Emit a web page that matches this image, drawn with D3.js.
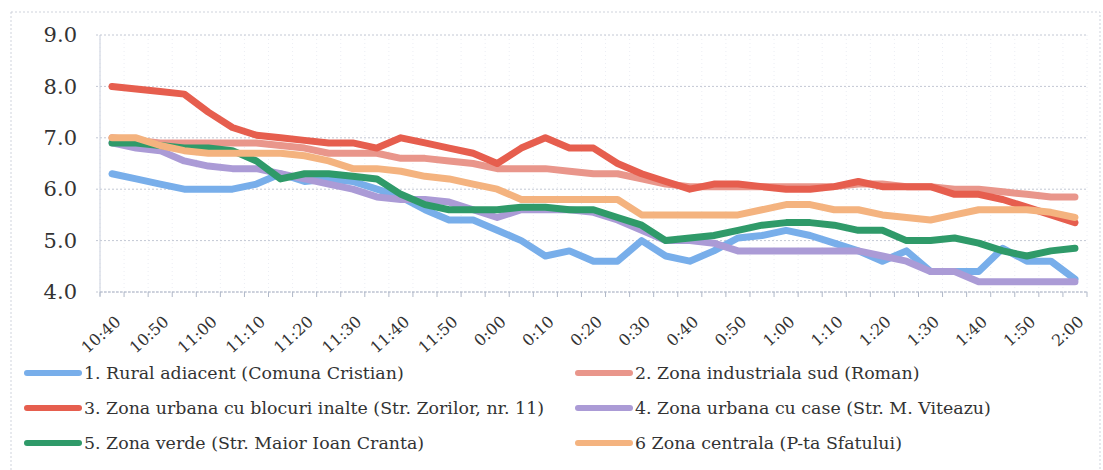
<!DOCTYPE html>
<html>
<head>
<meta charset="utf-8">
<script src="https://cdn.jsdelivr.net/npm/d3@7"></script>
<style>
    body { margin: 0; background: #fff; }
    svg { display: block; }
</style>
</head>
<body>
<svg id="chart" width="1103" height="470"></svg>
<script>
var times = ["10:40","10:45","10:50","10:55","11:00","11:05","11:10","11:15","11:20","11:25",
    "11:30","11:35","11:40","11:45","11:50","11:55","0:00","0:05","0:10","0:15",
    "0:20","0:25","0:30","0:35","0:40","0:45","0:50","0:55","1:00","1:05",
    "1:10","1:15","1:20","1:25","1:30","1:35","1:40","1:45","1:50","1:55","2:00"];

var yTicks = [4, 5, 6, 7, 8, 9];

var seriesNames = [
    "1. Rural adiacent (Comuna Cristian)",
    "2. Zona industriala sud (Roman)",
    "3. Zona urbana cu blocuri inalte (Str. Zorilor, nr. 11)",
    "4. Zona urbana cu case (Str. M. Viteazu)",
    "5. Zona verde (Str. Maior Ioan Cranta)",
    "6 Zona centrala (P-ta Sfatului)"
];

var seriesColors = ["#78aeea", "#e9968b", "#e65e4e", "#ab9bd6", "#2f9a69", "#f4b37f"];

var rural = [6.3,6.2,6.1,6.0,6.0,6.0,6.1,6.3,6.15,6.2,
    6.15,6.0,5.85,5.6,5.4,5.4,5.2,5.0,4.7,4.8,
    4.6,4.6,5.0,4.7,4.6,4.8,5.05,5.1,5.2,5.1,
    4.95,4.8,4.6,4.8,4.4,4.4,4.4,4.85,4.6,4.6,4.25];

var industriala = [7.0,6.95,6.9,6.9,6.9,6.9,6.9,6.85,6.8,6.7,
    6.7,6.7,6.6,6.6,6.55,6.5,6.4,6.4,6.4,6.35,
    6.3,6.3,6.2,6.1,6.05,6.05,6.05,6.05,6.05,6.05,
    6.05,6.1,6.1,6.05,6.05,6.0,6.0,5.95,5.9,5.85,5.85];

var blocuri = [8.0,7.95,7.9,7.85,7.5,7.2,7.05,7.0,6.95,6.9,
    6.9,6.8,7.0,6.9,6.8,6.7,6.5,6.8,7.0,6.8,
    6.8,6.5,6.3,6.15,6.0,6.1,6.1,6.05,6.0,6.0,
    6.05,6.15,6.05,6.05,6.05,5.9,5.9,5.8,5.65,5.5,5.35];

var caseUrbane = [6.9,6.8,6.75,6.55,6.45,6.4,6.4,6.3,6.2,6.1,
    6.0,5.85,5.8,5.8,5.75,5.6,5.45,5.6,5.6,5.6,
    5.55,5.4,5.2,5.0,5.0,4.95,4.8,4.8,4.8,4.8,
    4.8,4.8,4.7,4.6,4.4,4.4,4.2,4.2,4.2,4.2,4.2];

var verde = [6.9,6.9,6.85,6.8,6.8,6.75,6.55,6.2,6.3,6.3,
    6.25,6.2,5.9,5.7,5.6,5.6,5.6,5.65,5.65,5.6,
    5.6,5.45,5.3,5.0,5.05,5.1,5.2,5.3,5.35,5.35,
    5.3,5.2,5.2,5.0,5.0,5.05,4.95,4.8,4.7,4.8,4.85];

var centrala = [7.0,7.0,6.85,6.75,6.7,6.7,6.7,6.7,6.65,6.55,
    6.4,6.4,6.35,6.25,6.2,6.1,6.0,5.8,5.8,5.8,
    5.8,5.8,5.5,5.5,5.5,5.5,5.5,5.6,5.7,5.7,
    5.6,5.6,5.5,5.45,5.4,5.5,5.6,5.6,5.6,5.55,5.45];

var allSeries = [rural, industriala, blocuri, caseUrbane, verde, centrala];
// drawing order: back to front, like the reference
var drawOrder = [0, 1, 2, 3, 4, 5];

var fontFamily = "'DejaVu Serif', serif";
var textColor = "#333333";

var svg = d3.select("#chart");

var plot = { left: 100, right: 1087, top: 35, bottom: 292 };

var x = d3.scaleBand()
    .domain(times)
    .range([plot.left, plot.right]);

var y = d3.scaleLinear()
    .domain([4, 9])
    .range([plot.bottom, plot.top]);

var cx = function(d) { return x(d) + x.bandwidth() / 2; };

// outer chart border
svg.append("rect")
    .attr("x", 11)
    .attr("y", 12)
    .attr("width", 1089)
    .attr("height", 480)
    .attr("fill", "none")
    .attr("stroke", "#cfd3dc")
    .attr("stroke-width", 1)
    .attr("stroke-dasharray", "2,2");

// vertical grid (faint)
var vgrid = svg.append("g");
vgrid.selectAll("line")
    .data(times.concat(["end"]))
    .enter()
    .append("line")
    .attr("x1", function(d) { return d === "end" ? plot.right : x(d); })
    .attr("x2", function(d) { return d === "end" ? plot.right : x(d); })
    .attr("y1", plot.top)
    .attr("y2", plot.bottom)
    .style("stroke", "#eceef4")
    .style("stroke-width", 1)
    .style("stroke-dasharray", "1,3");

// horizontal grid
var hgrid = svg.append("g");
hgrid.selectAll("line")
    .data(yTicks)
    .enter()
    .append("line")
    .attr("x1", plot.left - 4)
    .attr("x2", plot.right)
    .attr("y1", function(d) { return y(d); })
    .attr("y2", function(d) { return y(d); })
    .style("stroke", "#c3c8d4")
    .style("stroke-width", 1)
    .style("stroke-dasharray", "2,2");

// left axis line
svg.append("line")
    .attr("x1", plot.left).attr("x2", plot.left)
    .attr("y1", plot.top).attr("y2", plot.bottom + 4)
    .style("stroke", "#c8cedc")
    .style("stroke-width", 1);

// y axis labels
var yAxis = d3.axisLeft(y)
    .tickValues(yTicks)
    .tickFormat(d3.format(".1f"))
    .tickSize(0)
    .tickPadding(23);
var gy = svg.append("g")
    .attr("transform", "translate(" + plot.left + ",0)")
    .call(yAxis);
gy.select(".domain").remove();
gy.selectAll("text")
    .attr("font-family", fontFamily)
    .attr("font-size", 21)
    .attr("fill", textColor);

// x axis: category ticks at band edges
var xt = svg.append("g");
xt.append("line")
    .attr("x1", plot.left).attr("x2", plot.right)
    .attr("y1", plot.bottom).attr("y2", plot.bottom)
    .style("stroke", "#b9c0d0")
    .style("stroke-width", 1)
    .style("stroke-dasharray", "3,1");
xt.selectAll("line.tick")
    .data(times.concat(["end"]))
    .enter()
    .append("line")
    .attr("class", "tick")
    .attr("x1", function(d) { return d === "end" ? plot.right : x(d); })
    .attr("x2", function(d) { return d === "end" ? plot.right : x(d); })
    .attr("y1", plot.bottom)
    .attr("y2", plot.bottom + 5)
    .style("stroke", "#b0b8c8")
    .style("stroke-width", 1);

// x labels every 10 minutes, rotated
var xAxis = d3.axisBottom(x)
    .tickValues(times.filter(function(d, i) { return i % 2 === 0; }))
    .tickSize(0)
    .tickPadding(0);
var gx = svg.append("g")
    .attr("transform", "translate(0," + plot.bottom + ")")
    .call(xAxis);
gx.select(".domain").remove();
gx.selectAll("text")
    .attr("font-family", fontFamily)
    .attr("font-size", 16)
    .attr("fill", textColor)
    .attr("text-anchor", "end")
    .attr("y", 0)
    .attr("dy", "0.35em")
    .attr("transform", "translate(6,27) rotate(-42)");

// series lines
var line = d3.line()
    .x(function(d, i) { return cx(times[i]); })
    .y(function(d) { return y(d); });

var lines = svg.append("g");
lines.selectAll("path")
    .data(drawOrder)
    .enter()
    .append("path")
    .attr("d", function(k) { return line(allSeries[k]); })
    .attr("fill", "none")
    .style("stroke", function(k) { return seriesColors[k]; })
    .style("stroke-width", 7)
    .style("stroke-linejoin", "round")
    .style("stroke-linecap", "round");

// legend, two columns
var legendCols = [27, 578];
var legendRows = [373, 408, 443];
var legend = svg.append("g");
var items = legend.selectAll("g")
    .data(seriesNames)
    .enter()
    .append("g")
    .attr("transform", function(d, i) {
        return "translate(" + legendCols[i % 2] + "," + legendRows[Math.floor(i / 2)] + ")";
    });
items.append("line")
    .attr("x1", 0).attr("x2", 52)
    .attr("y1", 0).attr("y2", 0)
    .style("stroke", function(d, i) { return seriesColors[i]; })
    .style("stroke-width", 6)
    .style("stroke-linecap", "round");
items.append("text")
    .text(function(d) { return d; })
    .attr("x", 57)
    .attr("y", 0)
    .attr("dy", "0.35em")
    .attr("font-family", fontFamily)
    .attr("font-size", 17.4)
    .attr("fill", textColor);
</script>
</body>
</html>
